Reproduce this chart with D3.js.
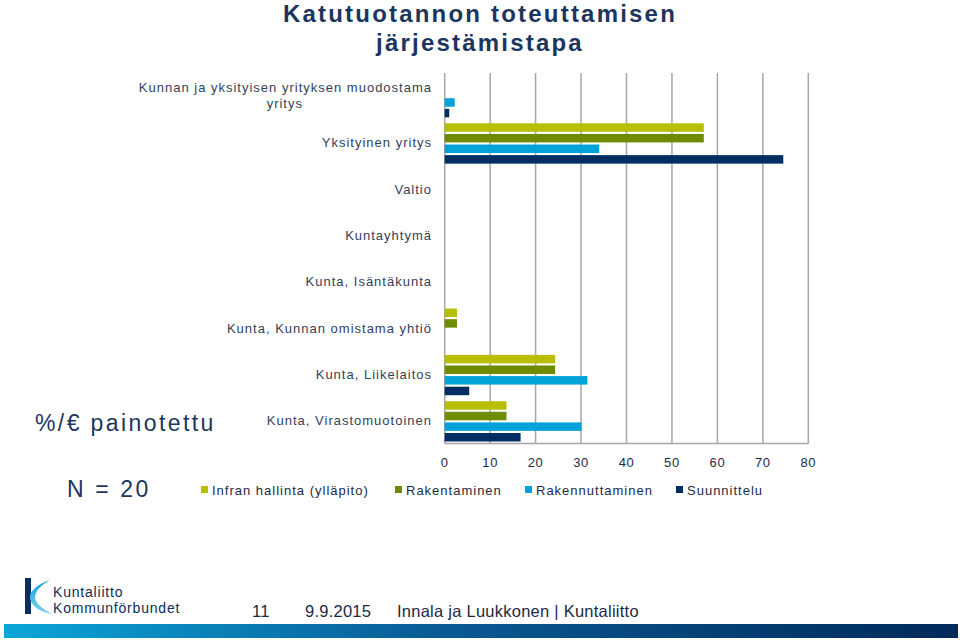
<!DOCTYPE html>
<html><head><meta charset="utf-8">
<script src="https://cdn.jsdelivr.net/npm/d3@7"></script>
<style>
html,body{margin:0;padding:0;background:#fff;}
svg text{font-family:"Liberation Sans",Arial,sans-serif;}
</style></head>
<body>
<svg id="c" width="960" height="640"></svg>
<script>
const categories = [
  ["Kunnan ja yksityisen yrityksen muodostama","yritys"],
  ["Yksityinen yritys"],
  ["Valtio"],
  ["Kuntayhtymä"],
  ["Kunta, Isäntäkunta"],
  ["Kunta, Kunnan omistama yhtiö"],
  ["Kunta, Liikelaitos"],
  ["Kunta, Virastomuotoinen"]
];
const seriesNames = ["Infran hallinta (ylläpito)","Rakentaminen","Rakennuttaminen","Suunnittelu"];
const infra      = [0, 57, 0, 0, 0, 2.7, 24.3, 13.6];
const rakent     = [0, 57, 0, 0, 0, 2.7, 24.3, 13.6];
const rakennutt  = [2.2, 34, 0, 0, 0, 0, 31.4, 30.1];
const suunn      = [1.0, 74.5, 0, 0, 0, 0, 5.4, 16.7];
const xTicks = [0,10,20,30,40,50,60,70,80];
const colors = ["#b8be00","#6f8c00","#00a3d9","#002d62"];
const series = [infra, rakent, rakennutt, suunn];

const svg = d3.select("#c");
const pLeft = 444.7, pRight = 808.3, pTop = 73, pBottom = 443.5;
const x = d3.scaleLinear().domain([0,80]).range([pLeft,pRight]);
const y = d3.scaleBand().domain(d3.range(categories.length)).range([pTop,pBottom]).paddingInner(0).paddingOuter(0);
const yi = d3.scaleBand().domain(d3.range(4)).range([4, y.bandwidth()-2]).paddingInner(0.2);

// title
const title = svg.append("text").attr("x",479).attr("text-anchor","middle")
  .attr("fill","#1c355e").attr("font-weight","bold").attr("font-size",24).attr("letter-spacing",2.2);
title.append("tspan").attr("x",480).attr("y",22).text("Katutuotannon toteuttamisen");
title.append("tspan").attr("x",480).attr("y",51).text("järjestämistapa");

// gridlines
svg.append("g").selectAll("line").data(xTicks).join("line")
  .attr("x1",d=>x(d)).attr("x2",d=>x(d)).attr("y1",pTop).attr("y2",pBottom)
  .attr("stroke","#a6a6a6").attr("stroke-width",1.5);
svg.append("line").attr("x1",pLeft).attr("x2",pRight).attr("y1",pBottom).attr("y2",pBottom)
  .attr("stroke","#a6a6a6").attr("stroke-width",1.5);

// bars
series.forEach((s,si)=>{
  svg.append("g").selectAll("rect").data(s).join("rect")
    .attr("x",x(0)).attr("y",(d,i)=>y(i)+yi(si))
    .attr("width",d=>x(d)-x(0)).attr("height",yi.bandwidth())
    .attr("fill",colors[si]);
});

// category labels
const lab = svg.append("g").selectAll("text").data(categories).join("text")
  .attr("text-anchor","end").attr("fill","#33415a").attr("font-size",13).attr("letter-spacing",1.0);
lab.each(function(d,i){
  const t = d3.select(this);
  const cy = y(i)+y.bandwidth()/2;
  if(d.length===2){
    t.append("tspan").attr("x",432).attr("y",cy-4).text(d[0]);
    t.append("tspan").attr("x",303).attr("y",cy+12).text(d[1]);
  } else {
    t.append("tspan").attr("x",432).attr("y",cy+5).text(d[0]);
  }
});

// x tick labels
svg.append("g").selectAll("text").data(xTicks).join("text")
  .attr("x",d=>x(d)).attr("y",467).attr("text-anchor","middle")
  .attr("fill","#1c2a44").attr("font-size",13).attr("letter-spacing",0.6).text(d=>d);

// legend
const legX = [201, 395, 525, 676];
const leg = svg.append("g").selectAll("g").data(seriesNames).join("g")
  .attr("transform",(d,i)=>`translate(${legX[i]},0)`);
leg.append("rect").attr("x",0).attr("y",486).attr("width",7).attr("height",7).attr("fill",(d,i)=>colors[i]);
leg.append("text").attr("x",11).attr("y",495).attr("font-size",13).attr("letter-spacing",1.0)
  .attr("fill","#1c2a44").text(d=>d);

// side notes
svg.append("text").attr("x",35).attr("y",431).attr("font-size",23).attr("letter-spacing",2.4)
  .attr("fill","#1c355e").text("%/€ painotettu");
svg.append("text").attr("x",67).attr("y",497).attr("font-size",23).attr("letter-spacing",2.6)
  .attr("fill","#1c355e").text("N = 20");

// footer gradient
const defs = svg.append("defs");
const gr = defs.append("linearGradient").attr("id","fg").attr("x1","0").attr("x2","1").attr("y1","0").attr("y2","0");
gr.append("stop").attr("offset","0").attr("stop-color","#0aa6d8");
gr.append("stop").attr("offset","0.45").attr("stop-color","#0a5b96");
gr.append("stop").attr("offset","1").attr("stop-color","#002a5a");
svg.append("rect").attr("x",4).attr("y",624).attr("width",954).attr("height",14).attr("fill","url(#fg)");
const lg = defs.append("linearGradient").attr("id","lg").attr("x1","0").attr("x2","0").attr("y1","0").attr("y2","1");
lg.append("stop").attr("offset","0").attr("stop-color","#0aa6d8");
lg.append("stop").attr("offset","1").attr("stop-color","#7fd0ef");

// logo
svg.append("rect").attr("x",25).attr("y",578).attr("width",6).attr("height",36).attr("fill","#0d2d5c");
svg.append("path").attr("d","M50,580 C37,584 29,592 30,598 C31,606 40,612 52,614 C43,609 36,604 35,598 C35,591 41,585 50,580 Z")
  .attr("fill","url(#lg)");
svg.append("text").attr("x",53).attr("y",597)
  .attr("font-size",14).attr("letter-spacing",0.8).attr("fill","#0d2d5c").text("Kuntaliitto");
svg.append("text").attr("x",53).attr("y",613)
  .attr("font-size",14).attr("letter-spacing",0.8).attr("fill","#0d2d5c").text("Kommunförbundet");

// footer texts
[[252,"11"],[305,"9.9.2015"],[397,"Innala ja Luukkonen | Kuntaliitto"]].forEach(([fx,t])=>{
  svg.append("text").attr("x",fx).attr("y",617).attr("font-size",16.5)
    .attr("letter-spacing",0.25).attr("fill","#1c2a44").text(t);
});
</script>
</body></html>
